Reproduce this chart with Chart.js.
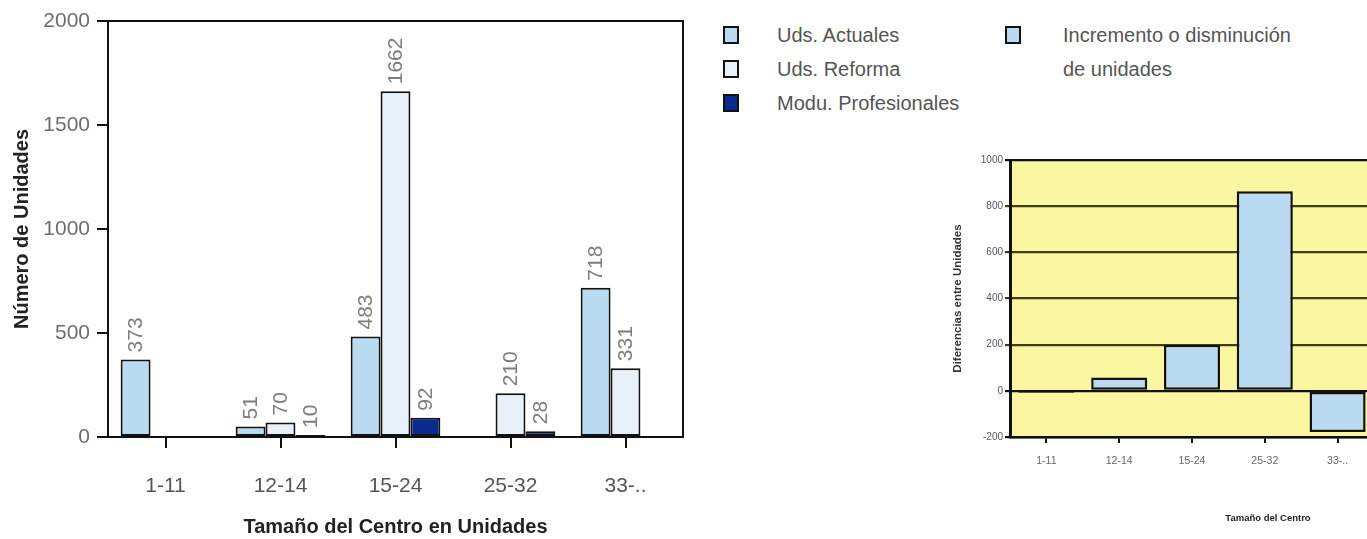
<!DOCTYPE html>
<html>
<head>
<meta charset="utf-8">
<script src="https://cdn.jsdelivr.net/npm/chart.js@4.4.0/dist/chart.umd.min.js"></script>
<style>
  html, body { margin: 0; padding: 0; background: #ffffff; }
  #page { position: relative; width: 1367px; height: 539px; overflow: hidden; background: #fff; }
  #c1 { position: absolute; left: 0; top: 0; }
  #c2 { position: absolute; left: 930px; top: 130px; }
  .lg { position: absolute; font-family: "Liberation Sans", Arial, sans-serif; font-size: 20px; color: #555; line-height: 22px; white-space: nowrap; }
  .sw { position: absolute; width: 16px; height: 18px; border: 2px solid #111; box-sizing: border-box; }
  #t2 { position: absolute; left: 1168px; width: 200px; top: 512px; text-align: center; font-family: "Liberation Sans", Arial, sans-serif; font-weight: bold; font-size: 9.5px; color: #222; }
</style>
</head>
<body>
<div id="page">
  <canvas id="c1" width="700" height="539" style="width:700px;height:539px"></canvas>
  <canvas id="c2" width="450" height="409" style="width:450px;height:409px"></canvas>

  <div class="sw" style="left:723px;top:26px;background:#b9daf0"></div>
  <div class="lg" style="left:777px;top:24px">Uds. Actuales</div>
  <div class="sw" style="left:723px;top:60px;background:#e8f1fa"></div>
  <div class="lg" style="left:777px;top:58px">Uds. Reforma</div>
  <div class="sw" style="left:723px;top:94px;background:#0b2a8e"></div>
  <div class="lg" style="left:777px;top:92px">Modu. Profesionales</div>

  <div class="sw" style="left:1005px;top:26px;background:#b9daf0"></div>
  <div class="lg" style="left:1063px;top:24px">Incremento o disminución</div>
  <div class="lg" style="left:1063px;top:58px">de unidades</div>

  <div id="t2">Tamaño del Centro</div>
</div>
<script>
// ---- data ----
const categorias = ['1-11', '12-14', '15-24', '25-32', '33-..'];
const udsActuales = [373, 51, 483, 0, 718];
const udsReforma = [0, 70, 1662, 210, 331];
const moduProfesionales = [0, 10, 92, 28, 0];
const diferencias = [-8, 58, 200, 865, -178];
const ticksUnidades = [0, 500, 1000, 1500, 2000];
const ticksDiferencias = [-200, 0, 200, 400, 600, 800, 1000];

const FONT = '"Liberation Sans", Arial, sans-serif';

const boxPlugin = {
  id: 'box',
  afterDraw(chart) {
    const a = chart.chartArea, ctx = chart.ctx;
    ctx.save();
    ctx.strokeStyle = '#111';
    ctx.lineWidth = 2;
    ctx.strokeRect(a.left, a.top, a.right - a.left, a.bottom - a.top);
    ctx.restore();
  }
};

const valueLabels = {
  id: 'valueLabels',
  afterDatasetsDraw(chart) {
    const ctx = chart.ctx;
    ctx.save();
    ctx.fillStyle = '#7d7d7d';
    ctx.font = '21px ' + FONT;
    ctx.textAlign = 'left';
    ctx.textBaseline = 'middle';
    chart.data.datasets.forEach((ds, i) => {
      const meta = chart.getDatasetMeta(i);
      meta.data.forEach((bar, j) => {
        const v = ds.data[j];
        if (v == null) return;
        ctx.save();
        ctx.translate(bar.x + 1, bar.y - 7);
        ctx.rotate(-Math.PI / 2);
        ctx.fillText(String(v), 0, 0);
        ctx.restore();
      });
    });
    ctx.restore();
  }
};

const yellowBg = {
  id: 'yellowBg',
  beforeDraw(chart) {
    const a = chart.chartArea, ctx = chart.ctx;
    ctx.save();
    ctx.fillStyle = '#faf6a2';
    ctx.fillRect(a.left, a.top, a.right - a.left, a.bottom - a.top);
    ctx.restore();
  }
};

const nz = arr => arr.map(v => (v === 0 ? null : v));
const plain = v => String(v);

new Chart(document.getElementById('c1'), {
  type: 'bar',
  data: {
    labels: categorias,
    datasets: [
      { label: 'Uds. Actuales', data: nz(udsActuales), backgroundColor: '#b9daf0', borderColor: '#111', borderWidth: 2, borderSkipped: false },
      { label: 'Uds. Reforma', data: nz(udsReforma), backgroundColor: '#e8f1fa', borderColor: '#111', borderWidth: 2, borderSkipped: false },
      { label: 'Modu. Profesionales', data: nz(moduProfesionales), backgroundColor: '#0b2a8e', borderColor: '#111', borderWidth: 2, borderSkipped: false }
    ]
  },
  options: {
    responsive: false,
    animation: false,
    layout: { padding: { left: 0, top: 21, right: 17, bottom: 0 } },
    plugins: { legend: { display: false }, tooltip: { enabled: false } },
    datasets: { bar: { categoryPercentage: 0.78, barPercentage: 1.0 } },
    scales: {
      x: {
        afterFit: s => { s.height = 102; },
        grid: { display: true, drawOnChartArea: false, offset: false, tickLength: 11, color: '#111', lineWidth: 2 },
        border: { display: true, color: '#111', width: 2 },
        ticks: { color: '#555', font: { family: FONT, size: 21 }, padding: 26 },
        title: { display: true, text: 'Tamaño del Centro en Unidades', color: '#222', font: { family: FONT, size: 20, weight: 'bold' }, padding: { top: 0, bottom: 0 } }
      },
      y: {
        min: 0, max: 2000,
        afterFit: s => { s.width = 108; },
        afterBuildTicks: s => { s.ticks = ticksUnidades.map(v => ({ value: v })); },
        grid: { display: true, drawOnChartArea: false, tickLength: 11, color: '#111', lineWidth: 2 },
        border: { display: true, color: '#111', width: 2 },
        ticks: { color: '#6e6e6e', font: { family: FONT, size: 21 }, padding: 7, callback: plain },
        title: { display: true, text: 'Número de Unidades', color: '#222', font: { family: FONT, size: 20, weight: 'bold' }, padding: { top: 10, bottom: 0 } }
      }
    }
  },
  plugins: [boxPlugin, valueLabels]
});

new Chart(document.getElementById('c2'), {
  type: 'bar',
  data: {
    labels: categorias,
    datasets: [
      { label: 'Incremento o disminución de unidades', data: diferencias, backgroundColor: '#b9daf0', borderColor: '#111', borderWidth: 2.5, borderSkipped: false }
    ]
  },
  options: {
    responsive: false,
    animation: false,
    layout: { padding: { left: 0, top: 30, right: 6, bottom: 0 } },
    plugins: { legend: { display: false }, tooltip: { enabled: false } },
    datasets: { bar: { categoryPercentage: 0.77, barPercentage: 1.0 } },
    scales: {
      x: {
        afterFit: s => { s.height = 102; },
        grid: { display: true, drawOnChartArea: false, offset: false, tickLength: 6, color: '#111', lineWidth: 2 },
        border: { display: true, color: '#111', width: 2.5 },
        ticks: { color: '#666', font: { family: FONT, size: 10.5 }, padding: 12 }
      },
      y: {
        min: -200, max: 1000,
        afterFit: s => { s.width = 80; },
        afterBuildTicks: s => { s.ticks = ticksDiferencias.map(v => ({ value: v })); },
        grid: {
          display: true, drawOnChartArea: true, tickLength: 5, lineWidth: 2.2,
          color: c => ([0, -200, 1000].includes(c.tick && c.tick.value) ? '#111' : '#3f3f16')
        },
        border: { display: true, color: '#111', width: 3 },
        ticks: { color: '#555', font: { family: FONT, size: 10 }, padding: 2, callback: plain },
        title: { display: true, text: 'Diferencias entre Unidades', color: '#333', font: { family: FONT, size: 11.5, weight: 'bold' }, padding: { top: 21, bottom: 0 } }
      }
    }
  },
  plugins: [yellowBg]
});
</script>
</body>
</html>
